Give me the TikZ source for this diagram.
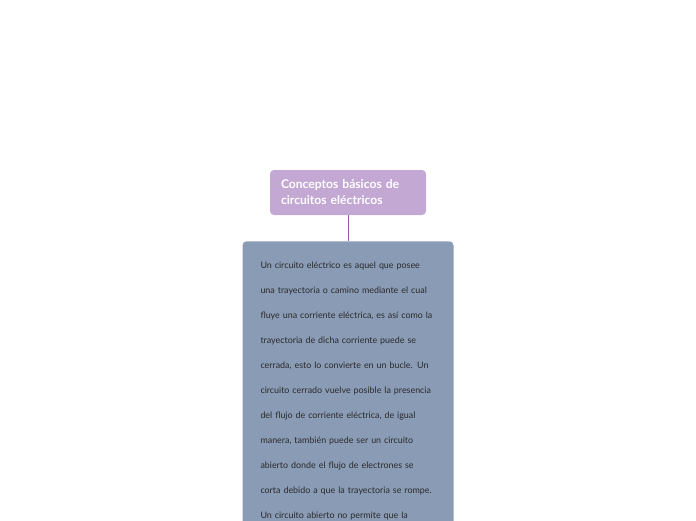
\documentclass[tikz,border=0pt]{standalone}
\usepackage{fontspec}
\setmainfont{Lato}
\usetikzlibrary{positioning}
\colorlet{mytitle}{white}
\definecolor{mypurple}{HTML}{C4A8D4}
\definecolor{mydarkpurple}{HTML}{9558B2}
\definecolor{myslate}{HTML}{8A9BB5}
\definecolor{mytext}{HTML}{2A2A2A}
\tikzstyle{topic}=[fill=mypurple,rounded corners=4pt,text=mytitle,align=left,
                   text width=134pt,inner xsep=11pt,minimum height=45pt,
                   font=\fontsize{12.1}{16}\selectfont\bfseries]
\tikzstyle{note}=[fill=myslate,rounded corners=4pt,text=mytext,align=left,
                  text width=175pt,inner xsep=18pt,inner ysep=20.5pt,
                  font=\fontsize{8.9}{25}\selectfont]
\tikzstyle{link}=[mydarkpurple,line width=0.9pt]

\begin{document}
\begin{tikzpicture}[x=1pt,y=-1pt]
  \useasboundingbox (0,0) rectangle (696,520);
  \clip (0,0) rectangle (696,520);
  
  % MAIN TOPIC
  \node[topic] (concepts) at (348,192.5) {Conceptos básicos de\\circuitos eléctricos};
  
  % DESCRIPTION
  \node[note,below=26pt of concepts] (circuit) {%
    Un circuito eléctrico es aquel que posee\\
    una trayectoria o camino mediante el cual\\
    fluye una corriente eléctrica, es así como la\\
    trayectoria de dicha corriente puede se\\
    cerrada, esto lo convierte en un bucle. Un\\
    circuito cerrado vuelve posible la presencia\\
    del flujo de corriente eléctrica, de igual\\
    manera, también puede ser un circuito\\
    abierto donde el flujo de electrones se\\
    corta debido a que la trayectoria se rompe.\\
    Un circuito abierto no permite que la};
  
  % CONNECTOR
  \draw[link] (concepts) -- (circuit);
  
\end{tikzpicture}
\end{document}
